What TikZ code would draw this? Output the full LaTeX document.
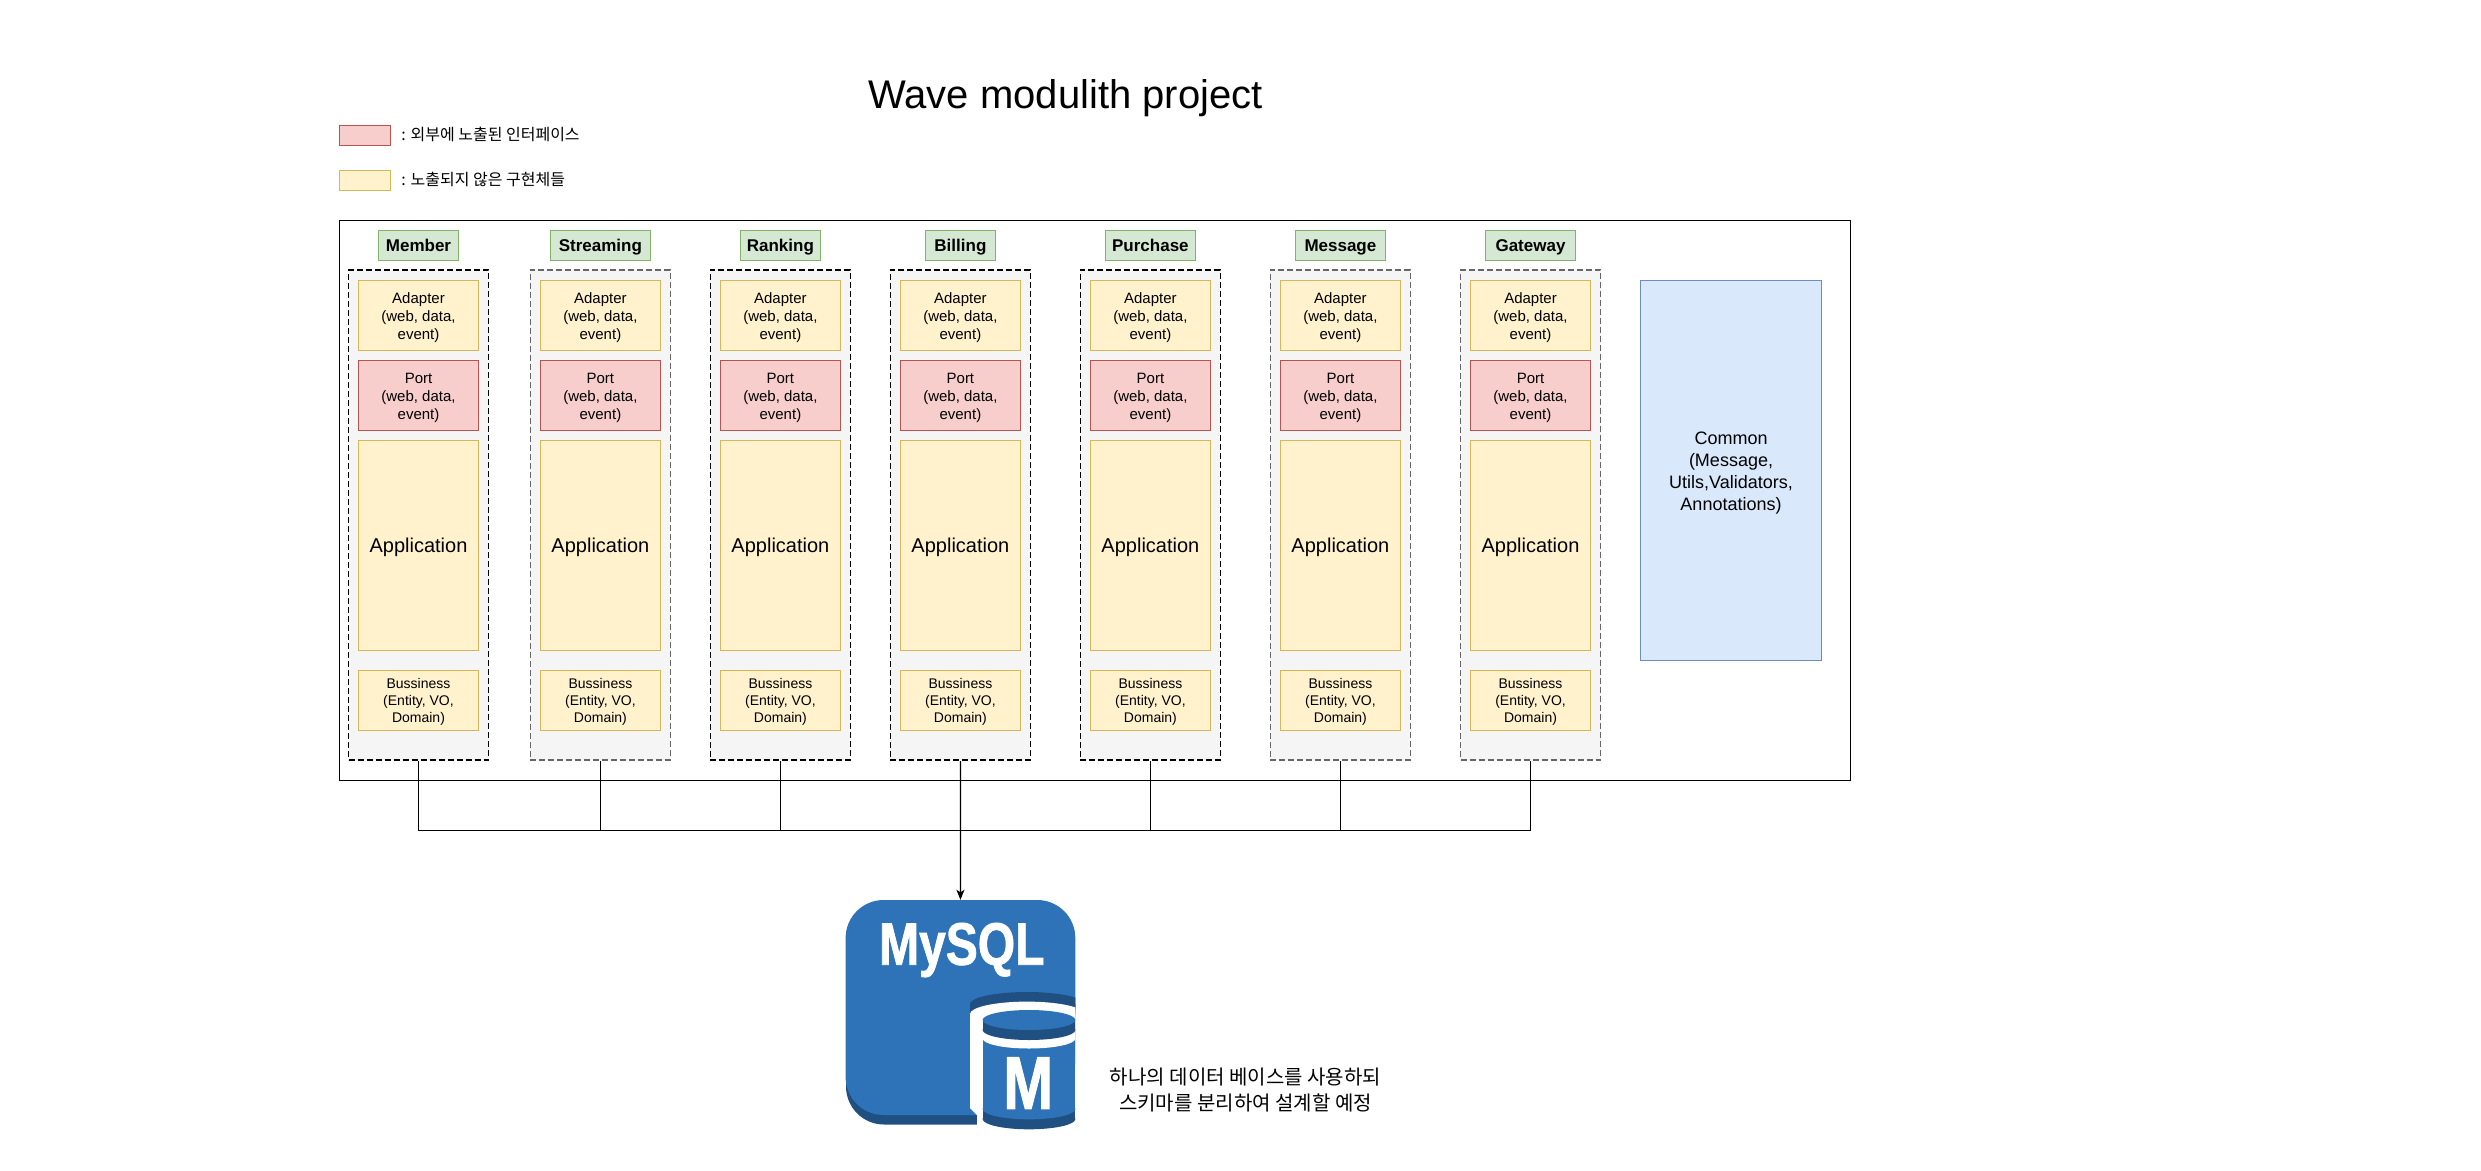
\documentclass[tikz,border=0pt]{standalone}
\usepackage{fontspec}
\setmainfont{Liberation Sans}
\newfontfamily\korfont{Noto Sans CJK KR}
\newfontfamily\narrowfont[FakeStretch=0.8,FakeBold=1.2]{Liberation Sans Bold}
\usetikzlibrary{positioning}
\usetikzlibrary{arrows.meta}
\definecolor{yelfill}{HTML}{FFF2CC}
\definecolor{yelline}{HTML}{D6B656}
\definecolor{redfill}{HTML}{F8CECC}
\definecolor{redline}{HTML}{B85450}
\definecolor{grnfill}{HTML}{D5E8D4}
\definecolor{grnline}{HTML}{82B366}
\definecolor{blufill}{HTML}{DAE8FC}
\definecolor{bluline}{HTML}{6C8EBF}
\definecolor{grayfill}{HTML}{F5F5F5}
\definecolor{grayline}{HTML}{666666}
\definecolor{dbblue}{HTML}{2E73B8}
\definecolor{dbdark}{HTML}{205081}
\tikzset{>={Stealth[length=10pt,width=8pt,inset=2.5pt]}}
\tikzset{box/.style={draw, line width=1.2pt, inner sep=0pt, align=center, minimum width=120pt}}
\tikzset{tag/.style={draw=grnline, fill=grnfill, line width=1.2pt, inner sep=0pt, minimum height=30pt, text height=14pt, text depth=3pt, font=\bfseries\fontsize{17}{20}\selectfont}}
\tikzset{svc/.style={fill=grayfill, line width=1.8pt, dash pattern=on 6pt off 3pt, inner sep=0pt, minimum width=140pt, minimum height=490pt}}
\tikzset{svcdark/.style={svc, draw=black}}
\tikzset{svclight/.style={svc, draw=grayline}}
\tikzset{adapter/.style={box, draw=yelline, fill=yelfill, minimum height=70pt, text height=51pt, text depth=3pt, font=\fontsize{15}{18}\selectfont}}
\tikzset{port/.style={box, draw=redline, fill=redfill, minimum height=70pt, text height=51pt, text depth=3pt, font=\fontsize{15}{18}\selectfont}}
\tikzset{app/.style={box, draw=yelline, fill=yelfill, minimum height=210pt, text height=17.8pt, text depth=4.2pt, font=\fontsize{20}{24}\selectfont}}
\tikzset{biz/.style={box, draw=yelline, fill=yelfill, minimum height=60pt, text height=47pt, text depth=3pt, font=\fontsize{14}{17}\selectfont}}
\tikzset{legendbox/.style={draw, line width=1.2pt, minimum width=51pt, minimum height=20pt, inner sep=0pt}}
\tikzset{legendtext/.style={anchor=west, inner sep=0pt, font=\korfont\fontsize{16}{19}\selectfont}}
\tikzset{line/.style={line width=1.2pt}}

\begin{document}
\begin{tikzpicture}[x=1pt, y=-1pt, on grid]
\useasboundingbox (0,0) rectangle (2481,1170);

\node[inner sep=0pt, font=\fontsize{40}{48}\selectfont] (title) at (1065.5,98) {Wave modulith project};

\node[legendbox, draw=redline, fill=redfill] (lgRed) at (365,135.5) {};
\node[legendbox, draw=yelline, fill=yelfill] (lgYel) at (365,180.3) {};
\node[legendtext] (lgRedText) at (401.2,134.5) {: 외부에 노출된 인터페이스};
\node[legendtext] (lgYelText) at (401.2,179.5) {: 노출되지 않은 구현체들};

\node[draw, line width=1.2pt, minimum width=1511pt, minimum height=560pt, inner sep=0pt] (frame) at (1095.15,500.3) {};

\node[tag, minimum width=80pt] (member) at (418.5,245.5) {Member};
\node[svcdark] (memberCol) [below = 269.7pt of member] {};
\node[adapter] (memberAd) [below = 69.8pt of member] {Adapter\\(web, data,\\event)};
\node[port] (memberPo) [below = 80pt of memberAd] {Port\\(web, data,\\event)};
\node[app] (memberAp) [below = 150pt of memberPo] {Application};
\node[biz] (memberBu) [below = 155pt of memberAp] {Bussiness\\(Entity, VO,\\Domain)~};

\node[tag, minimum width=100pt] (streaming) at (600.4,245.5) {Streaming};
\node[svclight] (streamingCol) [below = 269.7pt of streaming] {};
\node[adapter] (streamingAd) [below = 69.8pt of streaming] {Adapter\\(web, data,\\event)};
\node[port] (streamingPo) [below = 80pt of streamingAd] {Port\\(web, data,\\event)};
\node[app] (streamingAp) [below = 150pt of streamingPo] {Application};
\node[biz] (streamingBu) [below = 155pt of streamingAp] {Bussiness\\(Entity, VO,\\Domain)~};

\node[tag, minimum width=80pt] (ranking) at (780.4,245.5) {Ranking};
\node[svcdark] (rankingCol) [below = 269.7pt of ranking] {};
\node[adapter] (rankingAd) [below = 69.8pt of ranking] {Adapter\\(web, data,\\event)};
\node[port] (rankingPo) [below = 80pt of rankingAd] {Port\\(web, data,\\event)};
\node[app] (rankingAp) [below = 150pt of rankingPo] {Application};
\node[biz] (rankingBu) [below = 155pt of rankingAp] {Bussiness\\(Entity, VO,\\Domain)~};

\node[tag, minimum width=70pt] (billing) at (960.4,245.5) {Billing};
\node[svcdark] (billingCol) [below = 269.7pt of billing] {};
\node[adapter] (billingAd) [below = 69.8pt of billing] {Adapter\\(web, data,\\event)};
\node[port] (billingPo) [below = 80pt of billingAd] {Port\\(web, data,\\event)};
\node[app] (billingAp) [below = 150pt of billingPo] {Application};
\node[biz] (billingBu) [below = 155pt of billingAp] {Bussiness\\(Entity, VO,\\Domain)~};

\node[tag, minimum width=90pt] (purchase) at (1150.4,245.5) {Purchase};
\node[svcdark] (purchaseCol) [below = 269.7pt of purchase] {};
\node[adapter] (purchaseAd) [below = 69.8pt of purchase] {Adapter\\(web, data,\\event)};
\node[port] (purchasePo) [below = 80pt of purchaseAd] {Port\\(web, data,\\event)};
\node[app] (purchaseAp) [below = 150pt of purchasePo] {Application};
\node[biz] (purchaseBu) [below = 155pt of purchaseAp] {Bussiness\\(Entity, VO,\\Domain)~};

\node[tag, minimum width=90pt] (message) at (1340.4,245.5) {Message};
\node[svclight] (messageCol) [below = 269.7pt of message] {};
\node[adapter] (messageAd) [below = 69.8pt of message] {Adapter\\(web, data,\\event)};
\node[port] (messagePo) [below = 80pt of messageAd] {Port\\(web, data,\\event)};
\node[app] (messageAp) [below = 150pt of messagePo] {Application};
\node[biz] (messageBu) [below = 155pt of messageAp] {Bussiness\\(Entity, VO,\\Domain)~};

\node[tag, minimum width=90pt] (gateway) at (1530.5,245.5) {Gateway};
\node[svclight] (gatewayCol) [below = 269.7pt of gateway] {};
\node[adapter] (gatewayAd) [below = 69.8pt of gateway] {Adapter\\(web, data,\\event)};
\node[port] (gatewayPo) [below = 80pt of gatewayAd] {Port\\(web, data,\\event)};
\node[app] (gatewayAp) [below = 150pt of gatewayPo] {Application};
\node[biz] (gatewayBu) [below = 155pt of gatewayAp] {Bussiness\\(Entity, VO,\\Domain)~};

\node[draw=bluline, fill=blufill, line width=1.2pt, minimum width=181.4pt, minimum height=380pt, inner sep=0pt, align=center, text height=83.4pt, text depth=4pt, font=\fontsize{18}{22}\selectfont] (common) at (1731,470.3) {Common\\(Message,\\Utils,Validators,\\Annotations)};

% database icon
\node[minimum width=229.7pt, minimum height=225pt, inner sep=0pt] (mysql) at (960.45,1012.5) {};
\begin{scope}
\clip (840,890) rectangle (1075.3,1140);
\fill[dbdark] (846,1060) [rounded corners=38pt] -- (846,1124.5) [sharp corners] -- (977,1124.5) -- (977,1060) -- cycle;
\fill[dbblue] (977,1115) [rounded corners=38pt] -- (845.6,1115) -- (845.6,900) -- (1075.3,900) -- (1075.3,1100) [sharp corners] -- (977,1100) -- cycle;
\fill[dbdark] (1027,1004) ellipse [x radius=57, y radius=12];
\fill[dbdark] (970,1004) rectangle (1084,1016);
\fill[white] (1027,1014) ellipse [x radius=57, y radius=12.4];
\fill[white] (970,1014) -- (970,1108) -- (977,1115) -- (977,1140) -- (1084,1140) -- (1084,1014) -- cycle;
\fill[dbdark] (1029,1119) ellipse [x radius=46.4, y radius=10.3];
\fill[dbdark] (982.6,1109) rectangle (1075.4,1119);
\fill[dbblue] (1029,1109) ellipse [x radius=46.4, y radius=10.3];
\fill[dbblue] (982.6,1038.5) rectangle (1075.4,1109);
\fill[white] (1029,1038.5) ellipse [x radius=46.4, y radius=10];
\fill[dbdark] (1029,1030) ellipse [x radius=46.4, y radius=10];
\fill[dbdark] (982.6,1020) rectangle (1075.4,1030);
\fill[dbblue] (1029,1020) ellipse [x radius=46.4, y radius=10];
\end{scope}
\node[inner sep=0pt, text=white, font=\narrowfont\fontsize{60}{60}\selectfont] (mysqlText) at (961.8,950) {MySQL};
\node[inner sep=0pt, text=white, font=\narrowfont\fontsize{75}{75}\selectfont] (mysqlM) at (1028.2,1083) {M};

\node[inner sep=0pt, align=center, font=\korfont\fontsize{20}{26}\selectfont] (dbNote) at (1245.5,1090) {하나의 데이터 베이스를 사용하되\\스키마를 분리하여 설계할 예정};

\coordinate (bus) at (960.4,830.3);
\draw[line] (memberCol) -- (memberCol |- bus) -- (gatewayCol |- bus) -- (gatewayCol);
\draw[line] (streamingCol) -- (streamingCol |- bus);
\draw[line] (rankingCol) -- (rankingCol |- bus);
\draw[line] (purchaseCol) -- (purchaseCol |- bus);
\draw[line] (messageCol) -- (messageCol |- bus);
\draw[line, ->] (billingCol) -- (mysql);
\end{tikzpicture}
\end{document}
